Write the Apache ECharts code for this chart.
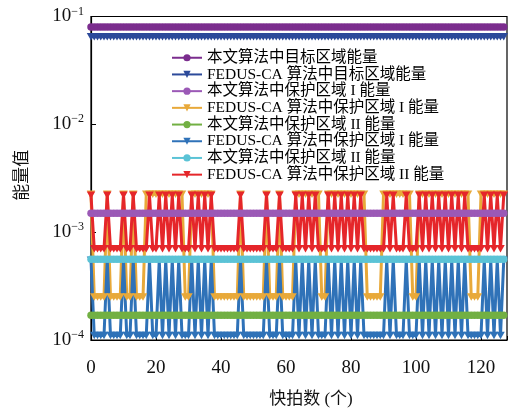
<!DOCTYPE html>
<html><head><meta charset="utf-8">
<script src="https://cdn.jsdelivr.net/npm/echarts@6/dist/echarts.min.js"></script>
<style>html,body{margin:0;padding:0;background:#fff}#c{width:510px;height:408px}</style>
</head><body><div id="c"></div>
<script>
const snapshots = [
0,1,2,3,4,5,6,7,8,9,10,11,12,13,14,15,
16,17,18,19,20,21,22,23,24,25,26,27,28,29,30,31,
32,33,34,35,36,37,38,39,40,41,42,43,44,45,46,47,
48,49,50,51,52,53,54,55,56,57,58,59,60,61,62,63,
64,65,66,67,68,69,70,71,72,73,74,75,76,77,78,79,
80,81,82,83,84,85,86,87,88,89,90,91,92,93,94,95,
96,97,98,99,100,101,102,103,104,105,106,107,108,109,110,111,
112,113,114,115,116,117,118,119,120,121,122,123,124,125,126,127];

const xTicks = [0,20,40,60,80,100,120];

const proposedTarget = [
0.08,0.08,0.08,0.08,0.08,0.08,0.08,0.08,0.08,0.08,0.08,0.08,0.08,0.08,0.08,0.08,
0.08,0.08,0.08,0.08,0.08,0.08,0.08,0.08,0.08,0.08,0.08,0.08,0.08,0.08,0.08,0.08,
0.08,0.08,0.08,0.08,0.08,0.08,0.08,0.08,0.08,0.08,0.08,0.08,0.08,0.08,0.08,0.08,
0.08,0.08,0.08,0.08,0.08,0.08,0.08,0.08,0.08,0.08,0.08,0.08,0.08,0.08,0.08,0.08,
0.08,0.08,0.08,0.08,0.08,0.08,0.08,0.08,0.08,0.08,0.08,0.08,0.08,0.08,0.08,0.08,
0.08,0.08,0.08,0.08,0.08,0.08,0.08,0.08,0.08,0.08,0.08,0.08,0.08,0.08,0.08,0.08,
0.08,0.08,0.08,0.08,0.08,0.08,0.08,0.08,0.08,0.08,0.08,0.08,0.08,0.08,0.08,0.08,
0.08,0.08,0.08,0.08,0.08,0.08,0.08,0.08,0.08,0.08,0.08,0.08,0.08,0.08,0.08,0.08];

const fedusTarget = [
0.065,0.065,0.065,0.065,0.065,0.065,0.065,0.065,0.065,0.065,0.065,0.065,0.065,0.065,0.065,0.065,
0.065,0.065,0.065,0.065,0.065,0.065,0.065,0.065,0.065,0.065,0.065,0.065,0.065,0.065,0.065,0.065,
0.065,0.065,0.065,0.065,0.065,0.065,0.065,0.065,0.065,0.065,0.065,0.065,0.065,0.065,0.065,0.065,
0.065,0.065,0.065,0.065,0.065,0.065,0.065,0.065,0.065,0.065,0.065,0.065,0.065,0.065,0.065,0.065,
0.065,0.065,0.065,0.065,0.065,0.065,0.065,0.065,0.065,0.065,0.065,0.065,0.065,0.065,0.065,0.065,
0.065,0.065,0.065,0.065,0.065,0.065,0.065,0.065,0.065,0.065,0.065,0.065,0.065,0.065,0.065,0.065,
0.065,0.065,0.065,0.065,0.065,0.065,0.065,0.065,0.065,0.065,0.065,0.065,0.065,0.065,0.065,0.065,
0.065,0.065,0.065,0.065,0.065,0.065,0.065,0.065,0.065,0.065,0.065,0.065,0.065,0.065,0.065,0.065];

const proposedProtI = [
1.5e-3,1.5e-3,1.5e-3,1.5e-3,1.5e-3,1.5e-3,1.5e-3,1.5e-3,1.5e-3,1.5e-3,1.5e-3,1.5e-3,1.5e-3,1.5e-3,1.5e-3,1.5e-3,
1.5e-3,1.5e-3,1.5e-3,1.5e-3,1.5e-3,1.5e-3,1.5e-3,1.5e-3,1.5e-3,1.5e-3,1.5e-3,1.5e-3,1.5e-3,1.5e-3,1.5e-3,1.5e-3,
1.5e-3,1.5e-3,1.5e-3,1.5e-3,1.5e-3,1.5e-3,1.5e-3,1.5e-3,1.5e-3,1.5e-3,1.5e-3,1.5e-3,1.5e-3,1.5e-3,1.5e-3,1.5e-3,
1.5e-3,1.5e-3,1.5e-3,1.5e-3,1.5e-3,1.5e-3,1.5e-3,1.5e-3,1.5e-3,1.5e-3,1.5e-3,1.5e-3,1.5e-3,1.5e-3,1.5e-3,1.5e-3,
1.5e-3,1.5e-3,1.5e-3,1.5e-3,1.5e-3,1.5e-3,1.5e-3,1.5e-3,1.5e-3,1.5e-3,1.5e-3,1.5e-3,1.5e-3,1.5e-3,1.5e-3,1.5e-3,
1.5e-3,1.5e-3,1.5e-3,1.5e-3,1.5e-3,1.5e-3,1.5e-3,1.5e-3,1.5e-3,1.5e-3,1.5e-3,1.5e-3,1.5e-3,1.5e-3,1.5e-3,1.5e-3,
1.5e-3,1.5e-3,1.5e-3,1.5e-3,1.5e-3,1.5e-3,1.5e-3,1.5e-3,1.5e-3,1.5e-3,1.5e-3,1.5e-3,1.5e-3,1.5e-3,1.5e-3,1.5e-3,
1.5e-3,1.5e-3,1.5e-3,1.5e-3,1.5e-3,1.5e-3,1.5e-3,1.5e-3,1.5e-3,1.5e-3,1.5e-3,1.5e-3,1.5e-3,1.5e-3,1.5e-3,1.5e-3];

const fedusProtI_orange = [
2.25e-3,2.5e-4,2.5e-4,2.5e-4,2.5e-4,2.25e-3,2.5e-4,2.5e-4,2.5e-4,2.5e-4,2.25e-3,2.5e-4,2.5e-4,2.25e-3,2.5e-4,2.5e-4,
2.5e-4,2.25e-3,2.25e-3,2.25e-3,2.25e-3,2.25e-3,2.25e-3,2.25e-3,2.25e-3,2.25e-3,2.25e-3,2.25e-3,2.25e-3,2.5e-4,2.5e-4,2.25e-3,
2.25e-3,2.25e-3,2.25e-3,2.25e-3,2.25e-3,2.25e-3,2.5e-4,2.5e-4,2.5e-4,2.5e-4,2.5e-4,2.5e-4,2.5e-4,2.5e-4,2.25e-3,2.5e-4,
2.5e-4,2.5e-4,2.5e-4,2.5e-4,2.5e-4,2.5e-4,2.25e-3,2.5e-4,2.5e-4,2.5e-4,2.25e-3,2.5e-4,2.5e-4,2.5e-4,2.5e-4,2.25e-3,
2.25e-3,2.25e-3,2.25e-3,2.25e-3,2.25e-3,2.25e-3,2.25e-3,2.5e-4,2.5e-4,2.25e-3,2.25e-3,2.25e-3,2.25e-3,2.25e-3,2.25e-3,2.25e-3,
2.25e-3,2.25e-3,2.25e-3,2.25e-3,2.25e-3,2.5e-4,2.5e-4,2.5e-4,2.5e-4,2.5e-4,2.25e-3,2.25e-3,2.25e-3,2.25e-3,2.25e-3,2.25e-3,
2.25e-3,2.25e-3,2.25e-3,2.5e-4,2.5e-4,2.25e-3,2.25e-3,2.25e-3,2.25e-3,2.25e-3,2.25e-3,2.25e-3,2.25e-3,2.25e-3,2.25e-3,2.25e-3,
2.25e-3,2.25e-3,2.25e-3,2.25e-3,2.25e-3,2.5e-4,2.5e-4,2.5e-4,2.25e-3,2.25e-3,2.25e-3,2.25e-3,2.25e-3,2.25e-3,2.25e-3,2.25e-3];

const proposedProtII_green = [
1.7e-4,1.7e-4,1.7e-4,1.7e-4,1.7e-4,1.7e-4,1.7e-4,1.7e-4,1.7e-4,1.7e-4,1.7e-4,1.7e-4,1.7e-4,1.7e-4,1.7e-4,1.7e-4,
1.7e-4,1.7e-4,1.7e-4,1.7e-4,1.7e-4,1.7e-4,1.7e-4,1.7e-4,1.7e-4,1.7e-4,1.7e-4,1.7e-4,1.7e-4,1.7e-4,1.7e-4,1.7e-4,
1.7e-4,1.7e-4,1.7e-4,1.7e-4,1.7e-4,1.7e-4,1.7e-4,1.7e-4,1.7e-4,1.7e-4,1.7e-4,1.7e-4,1.7e-4,1.7e-4,1.7e-4,1.7e-4,
1.7e-4,1.7e-4,1.7e-4,1.7e-4,1.7e-4,1.7e-4,1.7e-4,1.7e-4,1.7e-4,1.7e-4,1.7e-4,1.7e-4,1.7e-4,1.7e-4,1.7e-4,1.7e-4,
1.7e-4,1.7e-4,1.7e-4,1.7e-4,1.7e-4,1.7e-4,1.7e-4,1.7e-4,1.7e-4,1.7e-4,1.7e-4,1.7e-4,1.7e-4,1.7e-4,1.7e-4,1.7e-4,
1.7e-4,1.7e-4,1.7e-4,1.7e-4,1.7e-4,1.7e-4,1.7e-4,1.7e-4,1.7e-4,1.7e-4,1.7e-4,1.7e-4,1.7e-4,1.7e-4,1.7e-4,1.7e-4,
1.7e-4,1.7e-4,1.7e-4,1.7e-4,1.7e-4,1.7e-4,1.7e-4,1.7e-4,1.7e-4,1.7e-4,1.7e-4,1.7e-4,1.7e-4,1.7e-4,1.7e-4,1.7e-4,
1.7e-4,1.7e-4,1.7e-4,1.7e-4,1.7e-4,1.7e-4,1.7e-4,1.7e-4,1.7e-4,1.7e-4,1.7e-4,1.7e-4,1.7e-4,1.7e-4,1.7e-4,1.7e-4];

const fedusProtI_blue = [
5.5e-4,1.1e-4,1.1e-4,1.1e-4,1.1e-4,5.5e-4,1.1e-4,1.1e-4,1.1e-4,1.1e-4,5.5e-4,1.1e-4,1.1e-4,5.5e-4,1.1e-4,1.1e-4,
1.1e-4,1.1e-4,5.5e-4,1.1e-4,1.1e-4,5.5e-4,1.1e-4,5.5e-4,1.1e-4,5.5e-4,1.1e-4,5.5e-4,1.1e-4,1.1e-4,1.1e-4,5.5e-4,
1.1e-4,5.5e-4,1.1e-4,5.5e-4,1.1e-4,5.5e-4,1.1e-4,1.1e-4,1.1e-4,1.1e-4,1.1e-4,1.1e-4,1.1e-4,1.1e-4,5.5e-4,1.1e-4,
1.1e-4,1.1e-4,1.1e-4,1.1e-4,1.1e-4,1.1e-4,5.5e-4,1.1e-4,1.1e-4,1.1e-4,5.5e-4,1.1e-4,1.1e-4,1.1e-4,1.1e-4,5.5e-4,
1.1e-4,5.5e-4,1.1e-4,5.5e-4,1.1e-4,5.5e-4,1.1e-4,1.1e-4,1.1e-4,5.5e-4,1.1e-4,5.5e-4,1.1e-4,5.5e-4,1.1e-4,5.5e-4,
1.1e-4,5.5e-4,1.1e-4,5.5e-4,1.1e-4,1.1e-4,1.1e-4,1.1e-4,1.1e-4,1.1e-4,1.1e-4,5.5e-4,1.1e-4,5.5e-4,1.1e-4,1.1e-4,
1.1e-4,5.5e-4,1.1e-4,1.1e-4,1.1e-4,5.5e-4,1.1e-4,5.5e-4,1.1e-4,5.5e-4,1.1e-4,5.5e-4,1.1e-4,5.5e-4,1.1e-4,5.5e-4,
1.1e-4,5.5e-4,1.1e-4,5.5e-4,1.1e-4,1.1e-4,1.1e-4,1.1e-4,1.1e-4,5.5e-4,1.1e-4,5.5e-4,1.1e-4,5.5e-4,1.1e-4,5.5e-4];

const proposedProtII_cyan = [
5.6e-4,5.6e-4,5.6e-4,5.6e-4,5.6e-4,5.6e-4,5.6e-4,5.6e-4,5.6e-4,5.6e-4,5.6e-4,5.6e-4,5.6e-4,5.6e-4,5.6e-4,5.6e-4,
5.6e-4,5.6e-4,5.6e-4,5.6e-4,5.6e-4,5.6e-4,5.6e-4,5.6e-4,5.6e-4,5.6e-4,5.6e-4,5.6e-4,5.6e-4,5.6e-4,5.6e-4,5.6e-4,
5.6e-4,5.6e-4,5.6e-4,5.6e-4,5.6e-4,5.6e-4,5.6e-4,5.6e-4,5.6e-4,5.6e-4,5.6e-4,5.6e-4,5.6e-4,5.6e-4,5.6e-4,5.6e-4,
5.6e-4,5.6e-4,5.6e-4,5.6e-4,5.6e-4,5.6e-4,5.6e-4,5.6e-4,5.6e-4,5.6e-4,5.6e-4,5.6e-4,5.6e-4,5.6e-4,5.6e-4,5.6e-4,
5.6e-4,5.6e-4,5.6e-4,5.6e-4,5.6e-4,5.6e-4,5.6e-4,5.6e-4,5.6e-4,5.6e-4,5.6e-4,5.6e-4,5.6e-4,5.6e-4,5.6e-4,5.6e-4,
5.6e-4,5.6e-4,5.6e-4,5.6e-4,5.6e-4,5.6e-4,5.6e-4,5.6e-4,5.6e-4,5.6e-4,5.6e-4,5.6e-4,5.6e-4,5.6e-4,5.6e-4,5.6e-4,
5.6e-4,5.6e-4,5.6e-4,5.6e-4,5.6e-4,5.6e-4,5.6e-4,5.6e-4,5.6e-4,5.6e-4,5.6e-4,5.6e-4,5.6e-4,5.6e-4,5.6e-4,5.6e-4,
5.6e-4,5.6e-4,5.6e-4,5.6e-4,5.6e-4,5.6e-4,5.6e-4,5.6e-4,5.6e-4,5.6e-4,5.6e-4,5.6e-4,5.6e-4,5.6e-4,5.6e-4,5.6e-4];

const fedusProtII_red = [
2.2e-3,7e-4,7e-4,7e-4,7e-4,2.2e-3,7e-4,7e-4,7e-4,7e-4,2.2e-3,7e-4,7e-4,2.2e-3,7e-4,7e-4,
7e-4,7e-4,2.2e-3,7e-4,7e-4,2.2e-3,7e-4,2.2e-3,7e-4,2.2e-3,7e-4,2.2e-3,7e-4,7e-4,7e-4,2.2e-3,
7e-4,2.2e-3,7e-4,2.2e-3,7e-4,2.2e-3,7e-4,7e-4,7e-4,7e-4,7e-4,7e-4,7e-4,7e-4,2.2e-3,7e-4,
7e-4,7e-4,7e-4,7e-4,7e-4,7e-4,2.2e-3,7e-4,7e-4,7e-4,2.2e-3,7e-4,7e-4,7e-4,7e-4,2.2e-3,
7e-4,2.2e-3,7e-4,2.2e-3,7e-4,2.2e-3,7e-4,7e-4,7e-4,2.2e-3,7e-4,2.2e-3,7e-4,2.2e-3,7e-4,2.2e-3,
7e-4,2.2e-3,7e-4,2.2e-3,7e-4,7e-4,7e-4,7e-4,7e-4,7e-4,7e-4,2.2e-3,7e-4,2.2e-3,7e-4,7e-4,
7e-4,2.2e-3,7e-4,7e-4,7e-4,2.2e-3,7e-4,2.2e-3,7e-4,2.2e-3,7e-4,2.2e-3,7e-4,2.2e-3,7e-4,2.2e-3,
7e-4,2.2e-3,7e-4,2.2e-3,7e-4,7e-4,7e-4,7e-4,7e-4,2.2e-3,7e-4,2.2e-3,7e-4,2.2e-3,7e-4,2.2e-3];

const seriesNames = [
  '本文算法中目标区域能量',
  'FEDUS-CA 算法中目标区域能量',
  '本文算法中保护区域 I 能量',
  'FEDUS-CA 算法中保护区域 I 能量',
  '本文算法中保护区域 II 能量',
  'FEDUS-CA 算法中保护区域 I 能量 ',
  '本文算法中保护区域 II 能量 ',
  'FEDUS-CA 算法中保护区域 II 能量'
];
const seriesData = [proposedTarget, fedusTarget, proposedProtI, fedusProtI_orange,
  proposedProtII_green, fedusProtI_blue, proposedProtII_cyan, fedusProtII_red];
const seriesColors = ['#7B2D8E','#2C4A9A','#9B59B6','#E8A93A','#72B043','#2F72B8','#5BC3D6','#E5262A'];
const DOWN = 'path://M0,0L10,0L5,9Z';
const seriesSymbols = ['circle', DOWN, 'circle', DOWN, 'circle', DOWN, 'circle', DOWN];

const FONT = "'Liberation Serif','Times New Roman','Noto Sans CJK SC',serif";

const chart = echarts.init(document.getElementById('c'), null, {renderer: 'canvas'});
chart.setOption({
  animation: false,
  backgroundColor: '#fff',
  grid: {left: 91, right: 3, top: 16.5, bottom: 68, outerBoundsMode: 'none', containLabel: false,
    show: true, borderColor: '#000', borderWidth: 1.2, backgroundColor: 'transparent'},
  legend: {
    left: 166, top: 45, orient: 'vertical',
    itemWidth: 30, itemHeight: 9, itemGap: 1.2,
    textStyle: {fontFamily: FONT, fontSize: 15.5, color: '#000', lineHeight: 15},
    data: seriesNames
  },
  xAxis: {
    type: 'value', min: 0, max: 128, interval: 20,
    name: '快拍数 (个)', nameLocation: 'middle', nameGap: 51,
    nameTextStyle: {fontFamily: FONT, fontSize: 17, color: '#111', padding: [0,0,0,24]},
    axisLine: {show: true, lineStyle: {color: '#000', width: 1.2}},
    axisTick: {show: true, inside: true, length: 4, lineStyle: {color: '#000'}},
    axisLabel: {fontFamily: FONT, fontSize: 19, color: '#111', margin: 19,
      formatter: v => xTicks.indexOf(v) >= 0 ? String(v) : ''},
    splitLine: {show: false}
  },
  yAxis: {
    type: 'log', logBase: 10, min: 1e-4, max: 1e-1,
    name: '能量值', nameLocation: 'middle', nameGap: 60, nameRotate: 90,
    nameTextStyle: {fontFamily: FONT, fontSize: 17, color: '#111', padding: [0,0,0,6]},
    axisLine: {show: true, lineStyle: {color: '#000', width: 1.2}},
    axisTick: {show: true, inside: true, length: 5, lineStyle: {color: '#000'}},
    minorTick: {show: false},
    splitLine: {show: false},
    axisLabel: {
      margin: 7,
      formatter: v => {
        const e = Math.round(Math.log10(v));
        return '{b|10}{s|\u2212' + Math.abs(e) + '}';
      },
      rich: {
        b: {fontFamily: FONT, fontSize: 19, color: '#111', lineHeight: 22},
        s: {fontFamily: FONT, fontSize: 12, color: '#111', lineHeight: 12, verticalAlign: 'top'}
      }
    }
  },
  series: seriesNames.map((name, k) => ({
    name: name, type: 'line',
    data: snapshots.map((x, i) => [x, seriesData[k][i]]),
    symbol: seriesSymbols[k],
    symbolSize: seriesSymbols[k] === 'circle' ? 7.5 : [8.5, 7.5],
    lineStyle: {width: 3, color: seriesColors[k]},
    itemStyle: {color: seriesColors[k]},
    emphasis: {disabled: true}
  }))
});
</script></body></html>
